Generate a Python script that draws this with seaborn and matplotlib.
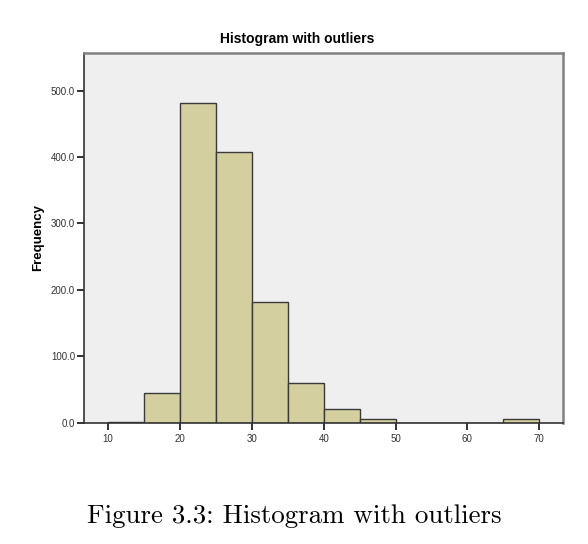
"""
Histogram with outliers, drawn from binned frequencies.
"""

import matplotlib
matplotlib.use("Agg")
import matplotlib.pyplot as plt
import seaborn as sns
from matplotlib.ticker import FixedLocator, FuncFormatter

# Binned data (bin width 5)
bin_edges = [10, 15, 20, 25, 30, 35, 40, 45, 50, 55, 60, 65, 70]
bin_left = [10, 15, 20, 25, 30, 35, 40, 45, 50, 55, 60, 65]
counts = [1, 44, 481, 408, 181, 59, 20, 5, 0, 0, 0, 5]

x_ticks = [10, 20, 30, 40, 50, 60, 70]
y_ticks = [0, 100, 200, 300, 400, 500]

TITLE = "Histogram with outliers"
CAPTION = "Figure 3.3: Histogram with outliers"

sns.set_style("white")
plt.rcParams["font.family"] = ["Liberation Sans", "DejaVu Sans"]

fig = plt.figure(figsize=(5.88, 5.44), dpi=100)
ax = fig.add_axes([0.1429, 0.2233, 0.8146, 0.6798])
ax.set_facecolor("#efefef")

sns.histplot(x=bin_left, weights=counts, bins=bin_edges, ax=ax,
             color="#d3cf9f", edgecolor="#3a3a3a", linewidth=1.0, alpha=1)

ax.set_xlim(6.65, 73.3)
ax.set_ylim(0, 557)
ax.xaxis.set_major_locator(FixedLocator(x_ticks))
ax.yaxis.set_major_locator(FixedLocator(y_ticks))
ax.yaxis.set_major_formatter(FuncFormatter(lambda v, _: f"{v:.1f}"))
ax.tick_params(axis="both", which="major", direction="out", length=5,
               width=1.3, color="#222222", labelsize=7, labelcolor="#333333",
               pad=1.5, bottom=True, left=True)
ax.tick_params(axis="x", pad=3)

for side in ("left", "bottom"):
    ax.spines[side].set_color("#333333")
    ax.spines[side].set_linewidth(1.2)
for side in ("top", "right"):
    ax.spines[side].set_color("#808080")
    ax.spines[side].set_linewidth(1.8)

ax.set_xlabel("")
ax.set_ylabel("Frequency", fontsize=9.5, fontweight="bold", color="black",
              labelpad=5)
fig.text(0.506, 0.915, TITLE, ha="center", va="bottom",
         fontsize=10, fontweight="bold", color="black")

fig.text(0.5, 0.052, CAPTION, ha="center", va="center",
         family="cmr10", fontsize=19.4, color="black")

fig.savefig("out.png", dpi=100)
